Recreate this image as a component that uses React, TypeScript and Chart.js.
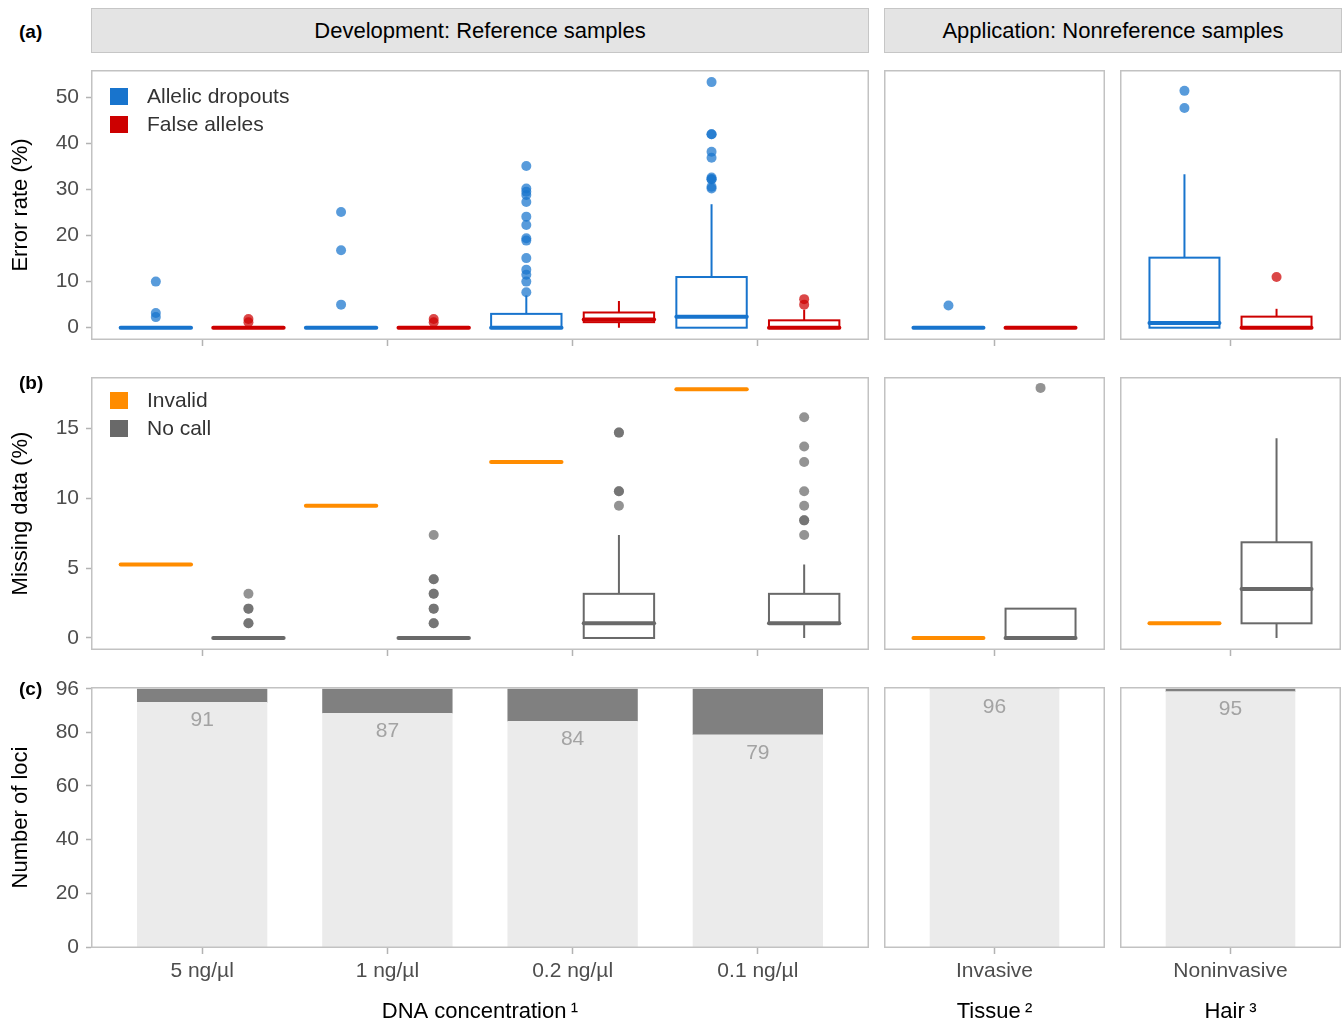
import React, { useEffect, useRef } from 'react';
import { Chart, registerables } from 'chart.js';

Chart.register(...registerables);

const FONT = "'Liberation Sans', Arial, Helvetica, sans-serif";

// ---------- categories & ticks ----------
const devCategories = ['5 ng/µl', '1 ng/µl', '0.2 ng/µl', '0.1 ng/µl'];
const tissueCategories = ['Invasive'];
const hairCategories = ['Noninvasive'];

const errorTicks = [0, 10, 20, 30, 40, 50];
const missingTicks = [0, 5, 10, 15];
const lociTicks = [0, 20, 40, 60, 80, 96];

// groups: 5, 1, 0.2, 0.1 ng/µl, Invasive (tissue), Noninvasive (hair)
// ---------- (a) error rates ----------
const dropoutQ1 = [0, 0, 0, 0, 0, 0];
const dropoutMedian = [0, 0, 0, 2.4, 0, 1.0];
const dropoutQ3 = [0, 0, 3.0, 11.0, 0, 15.2];
const dropoutWhiskerLow = [0, 0, 0, 0, 0, 0];
const dropoutWhiskerHigh = [0, 0, 7.0, 26.8, 0, 33.3];
const dropoutOutliers = [
  [10.0, 3.2, 2.3],
  [25.1, 16.8, 5.0],
  [35.1, 30.2, 29.5, 28.8, 27.3, 24.1, 22.3, 19.4, 18.9, 15.1, 12.6, 11.5, 10.0, 7.7],
  [53.3, 42.0, 42.0, 38.2, 36.9, 32.6, 32.2, 32.2, 30.6, 30.2],
  [4.8],
  [51.4, 47.7],
];

const falseQ1 = [0, 0, 1.2, 0, 0, 0];
const falseMedian = [0, 0, 1.8, 0, 0, 0];
const falseQ3 = [0, 0, 3.3, 1.6, 0, 2.4];
const falseWhiskerLow = [0, 0, 0, 0, 0, 0];
const falseWhiskerHigh = [0, 0, 5.8, 3.9, 0, 4.1];
const falseOutliers = [[1.9, 1.2], [1.9, 1.2], [], [6.2, 5.0], [], [11.0]];

// ---------- (b) missing data ----------
const invalidRate = [5.26, 9.47, 12.6, 17.8, 0, 1.05];
const noCallQ1 = [0, 0, 0, 1.05, 0, 1.05];
const noCallMedian = [0, 0, 1.05, 1.05, 0, 3.5];
const noCallQ3 = [0, 0, 3.16, 3.16, 2.1, 6.85];
const noCallWhiskerLow = [0, 0, 0, 0, 0, 0];
const noCallWhiskerHigh = [0, 0, 7.37, 5.26, 2.1, 14.3];
const noCallOutliers = [
  [3.16, 2.1, 2.1, 1.05, 1.05],
  [7.37, 4.21, 4.21, 3.16, 3.16, 2.1, 2.1, 1.05, 1.05],
  [14.7, 14.7, 10.5, 10.5, 9.47],
  [15.8, 13.7, 12.6, 10.5, 9.47, 8.42, 8.42, 7.37],
  [17.9],
  [],
];

// ---------- (c) loci ----------
const lociCalled = [91, 87, 84, 79, 96, 95];
const lociTotal = [96, 96, 96, 96, 96, 96];

// ---------- styling ----------
const BLUE = '#1874CD';
const RED = '#CD0000';
const ORANGE = '#FF8C00';
const GREY = '#696969';
const BLUE_PT = 'rgba(24,116,205,0.72)';
const RED_PT = 'rgba(205,0,0,0.72)';
const GREY_PT = 'rgba(105,105,105,0.72)';
const FRAME = '#c2c2c2';
const TICK = '#b3b3b3';
const TICK_TEXT = '#4d4d4d';

const DODGE = 0.25;
const HALF_W = 0.19;

const COLS = {
  dev: { l: 91, r: 869, groups: [0, 1, 2, 3], cats: devCategories, showY: true, xTitle: 'DNA concentration\u2009¹' },
  tissue: { l: 884, r: 1105, groups: [4], cats: tissueCategories, showY: false, xTitle: 'Tissue\u2009²' },
  hair: { l: 1120, r: 1341, groups: [5], cats: hairCategories, showY: false, xTitle: 'Hair\u2009³' },
};
const ROWS = {
  a: { t: 70, b: 340, min: -2.67, max: 55.93, ticks: errorTicks, title: 'Error rate (%)' },
  b: { t: 377, b: 650, min: -0.86, max: 18.68, ticks: missingTicks, title: 'Missing data (%)' },
  c: { t: 687, b: 948, min: -0.26, max: 96.74, ticks: lociTicks, title: 'Number of loci' },
};

type Box = { x: number; q1: number; med: number; q3: number; lo: number; hi: number; color: string };

function boxesFrom(groups: number[], off: number, q1: number[], med: number[], q3: number[], lo: number[], hi: number[], color: string): Box[] {
  return groups.map((g, i) => ({ x: i + 1 + off, q1: q1[g], med: med[g], q3: q3[g], lo: lo[g], hi: hi[g], color }));
}
function pointsFrom(groups: number[], off: number, vals: number[][]) {
  return groups.flatMap((g, i) => vals[g].map((v) => ({ x: i + 1 + off, y: v })));
}
function scatterSet(data: any[], color: string) {
  return { type: 'scatter', data, backgroundColor: color, borderWidth: 0, pointRadius: 5, pointHoverRadius: 5, showLine: false };
}

function buildConfig(colKey: keyof typeof COLS, rowKey: keyof typeof ROWS, geo: any) {
  const col = COLS[colKey];
  const row = ROWS[rowKey];
  const groups = col.groups;
  const xMin = 0.4;
  const xMax = groups.length + 0.6;
  const pxPerUnit = (col.r - col.l) / (xMax - xMin);
  let boxes: Box[] = [];
  let datasets: any[] = [];
  let barLabels: { x: number; v: number }[] = [];

  if (rowKey === 'a') {
    boxes = [
      ...boxesFrom(groups, -DODGE, dropoutQ1, dropoutMedian, dropoutQ3, dropoutWhiskerLow, dropoutWhiskerHigh, BLUE),
      ...boxesFrom(groups, DODGE, falseQ1, falseMedian, falseQ3, falseWhiskerLow, falseWhiskerHigh, RED),
    ];
    datasets = [
      scatterSet(pointsFrom(groups, -DODGE, dropoutOutliers), BLUE_PT),
      scatterSet(pointsFrom(groups, DODGE, falseOutliers), RED_PT),
    ];
  } else if (rowKey === 'b') {
    boxes = [
      ...boxesFrom(groups, -DODGE, invalidRate, invalidRate, invalidRate, invalidRate, invalidRate, ORANGE),
      ...boxesFrom(groups, DODGE, noCallQ1, noCallMedian, noCallQ3, noCallWhiskerLow, noCallWhiskerHigh, GREY),
    ];
    datasets = [scatterSet(pointsFrom(groups, DODGE, noCallOutliers), GREY_PT)];
  } else {
    const thickness = 0.7 * pxPerUnit;
    datasets = [
      {
        type: 'bar',
        data: groups.map((g, i) => ({ x: i + 1, y: [0, lociCalled[g]] })),
        backgroundColor: '#ebebeb',
        borderWidth: 0,
        barThickness: thickness,
        grouped: false,
      },
      {
        type: 'bar',
        data: groups.map((g, i) => ({ x: i + 1, y: [lociCalled[g], lociTotal[g]] })),
        backgroundColor: '#808080',
        borderWidth: 0,
        barThickness: thickness,
        grouped: false,
      },
    ];
    barLabels = groups.map((g, i) => ({ x: i + 1, v: lociCalled[g] }));
  }

  const boxPlugin = {
    id: 'boxplots',
    beforeDatasetsDraw(chart: any) {
      const { ctx } = chart;
      const x = chart.scales.x;
      const y = chart.scales.y;
      boxes.forEach((b) => {
        const xc = x.getPixelForValue(b.x);
        const x0 = x.getPixelForValue(b.x - HALF_W);
        const x1 = x.getPixelForValue(b.x + HALF_W);
        const yq1 = y.getPixelForValue(b.q1);
        const yq3 = y.getPixelForValue(b.q3);
        const ym = y.getPixelForValue(b.med);
        const ylo = y.getPixelForValue(b.lo);
        const yhi = y.getPixelForValue(b.hi);
        ctx.save();
        ctx.strokeStyle = b.color;
        ctx.lineWidth = 2;
        ctx.beginPath();
        ctx.moveTo(xc, yq3);
        ctx.lineTo(xc, yhi);
        ctx.moveTo(xc, yq1);
        ctx.lineTo(xc, ylo);
        ctx.stroke();
        ctx.fillStyle = '#ffffff';
        ctx.fillRect(x0, yq3, x1 - x0, yq1 - yq3);
        ctx.strokeRect(x0, yq3, x1 - x0, yq1 - yq3);
        ctx.lineWidth = 4;
        ctx.lineCap = 'round';
        ctx.beginPath();
        ctx.moveTo(x0, ym);
        ctx.lineTo(x1, ym);
        ctx.stroke();
        ctx.restore();
      });
    },
  };

  const framePlugin = {
    id: 'frame',
    afterDraw(chart: any) {
      const { ctx, chartArea: a } = chart;
      const x = chart.scales.x;
      const y = chart.scales.y;
      ctx.save();
      ctx.fillStyle = '#a3a3a3';
      ctx.font = `21px ${FONT}`;
      ctx.textAlign = 'center';
      ctx.textBaseline = 'middle';
      barLabels.forEach((l) => {
        ctx.fillText(String(l.v), x.getPixelForValue(l.x), y.getPixelForValue(l.v) + 18);
      });
      ctx.strokeStyle = FRAME;
      ctx.lineWidth = 1.5;
      ctx.strokeRect(a.left + 0.75, a.top + 0.75, a.right - a.left - 1.5, a.bottom - a.top - 1.5);
      ctx.restore();
    },
  };

  const xTickValues = groups.map((_, i) => i + 1);
  const showXLabels = rowKey === 'c';

  return {
    type: rowKey === 'c' ? 'bar' : 'scatter',
    data: { datasets },
    options: {
      animation: false,
      responsive: false,
      maintainAspectRatio: false,
      devicePixelRatio: 1,
      events: [],
      layout: {
        autoPadding: false,
        padding: { left: col.showY ? 0 : geo.ml, top: geo.mt, right: geo.mr, bottom: geo.pb },
      },
      plugins: { legend: { display: false }, tooltip: { enabled: false } },
      scales: {
        x: {
          type: 'linear',
          min: xMin,
          max: xMax,
          offset: false,
          afterBuildTicks: (s: any) => {
            s.ticks = xTickValues.map((v) => ({ value: v }));
          },
          afterFit: (s: any) => {
            s.height = geo.mb;
          },
          ticks: {
            display: showXLabels,
            autoSkip: false,
            maxRotation: 0,
            padding: 5,
            color: TICK_TEXT,
            font: { family: FONT, size: 21 },
            callback: (v: any) => col.cats[Math.round(v) - 1] ?? '',
          },
          grid: { display: true, offset: false, drawOnChartArea: false, drawTicks: true, tickLength: 6, tickColor: TICK, tickWidth: 1.5 },
          border: { display: false },
          title: {
            display: showXLabels,
            text: col.xTitle,
            color: '#000',
            font: { family: FONT, size: 22, lineHeight: 1 },
            padding: { top: 0, bottom: 0 },
          },
        },
        y: {
          type: 'linear',
          display: col.showY,
          min: row.min,
          max: row.max,
          afterBuildTicks: (s: any) => {
            s.ticks = row.ticks.map((v) => ({ value: v }));
          },
          afterFit: (s: any) => {
            s.width = col.showY ? geo.ml : 0;
          },
          ticks: { color: TICK_TEXT, padding: 7, font: { family: FONT, size: 21 } },
          grid: { display: true, offset: false, drawOnChartArea: false, drawTicks: true, tickLength: 5, tickColor: TICK, tickWidth: 1.5 },
          border: { display: false },
          title: {
            display: true,
            text: row.title,
            color: '#000',
            font: { family: FONT, size: 22, lineHeight: 1 },
            padding: { top: 10, bottom: 0 },
          },
        },
      },
    },
    plugins: [boxPlugin, framePlugin],
  } as any;
}

function Panel({ colKey, rowKey }: { colKey: keyof typeof COLS; rowKey: keyof typeof ROWS }) {
  const ref = useRef<HTMLCanvasElement>(null);
  const col = COLS[colKey];
  const row = ROWS[rowKey];
  const isBottom = rowKey === 'c';
  const geo = {
    ml: col.showY ? col.l : 4,
    mt: 24,
    mr: 4,
    mb: isBottom ? 1023 - row.b : 8,
    pb: isBottom ? 0 : 14,
  };
  const left = col.l - geo.ml;
  const top = row.t - geo.mt;
  const W = col.r - col.l + geo.ml + geo.mr;
  const H = row.b - row.t + geo.mt + geo.mb + geo.pb;

  useEffect(() => {
    const chart = new Chart(ref.current as HTMLCanvasElement, buildConfig(colKey, rowKey, geo));
    return () => chart.destroy();
  }, []);

  return (
    <canvas
      ref={ref}
      width={W}
      height={H}
      style={{ position: 'absolute', left, top, width: W, height: H }}
    />
  );
}

function Strip({ left, width, text }: { left: number; width: number; text: string }) {
  return (
    <div
      style={{
        position: 'absolute',
        left,
        top: 8,
        width,
        height: 45,
        boxSizing: 'border-box',
        background: '#e4e4e4',
        border: '1.5px solid #c6c6c6',
        display: 'flex',
        alignItems: 'center',
        justifyContent: 'center',
        fontSize: 22,
        color: '#000',
      }}
    >
      {text}
    </div>
  );
}

function LegendItem({ top, color, text }: { top: number; color: string; text: string }) {
  return (
    <>
      <div style={{ position: 'absolute', left: 110, top: top - 8.5, width: 18, height: 17, background: color }} />
      <div style={{ position: 'absolute', left: 147, top: top - 11, fontSize: 21, lineHeight: '22px', color: '#333', whiteSpace: 'nowrap' }}>
        {text}
      </div>
    </>
  );
}

function Tag({ top, text }: { top: number; text: string }) {
  return (
    <div style={{ position: 'absolute', left: 19, top: top - 10, fontSize: 19, lineHeight: '20px', fontWeight: 'bold', color: '#000' }}>
      {text}
    </div>
  );
}

export default function App() {
  const cols: (keyof typeof COLS)[] = ['dev', 'tissue', 'hair'];
  const rows: (keyof typeof ROWS)[] = ['a', 'b', 'c'];
  return (
    <div
      style={{
        position: 'absolute',
        left: 0,
        top: 0,
        width: 1343,
        height: 1023,
        background: '#fff',
        overflow: 'hidden',
        fontFamily: FONT,
      }}
    >
      <Strip left={91} width={778} text="Development: Reference samples" />
      <Strip left={884} width={458} text="Application: Nonreference samples" />
      {rows.map((r) => cols.map((c) => <Panel key={r + c} colKey={c} rowKey={r} />))}
      <LegendItem top={96} color={BLUE} text="Allelic dropouts" />
      <LegendItem top={124} color={RED} text="False alleles" />
      <LegendItem top={400} color={ORANGE} text="Invalid" />
      <LegendItem top={428} color={GREY} text="No call" />
      <Tag top={32} text="(a)" />
      <Tag top={383} text="(b)" />
      <Tag top={689} text="(c)" />
    </div>
  );
}
